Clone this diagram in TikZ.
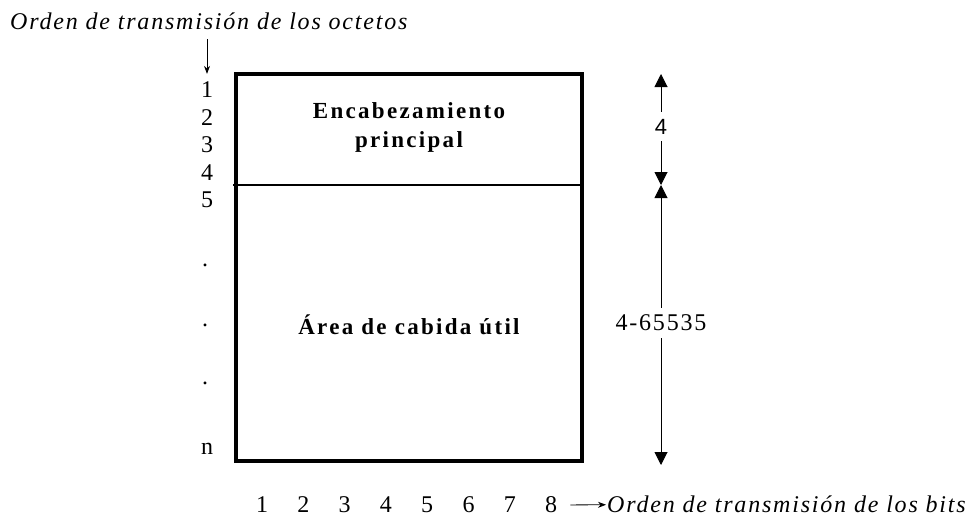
\documentclass[tikz,border=0pt]{standalone}
\usepackage{fontspec}
\setmainfont{Liberation Serif}
\newfontfamily\wideserif[LetterSpace=7.5]{Liberation Serif}
\newfontfamily\boldserif[LetterSpace=10]{Liberation Serif}
\newfontfamily\plainsans{Liberation Sans}
\usetikzlibrary{arrows.meta}
\begin{document}
\begin{tikzpicture}[x=1pt, y=-1pt,
            num/.style={font=\fontsize{24}{28}\selectfont, inner sep=2pt},
            ttl/.style={font=\wideserif\itshape\fontsize{24}{28}\selectfont, inner sep=1pt},
            lbl/.style={font=\boldserif\bfseries\fontsize{23}{29}\selectfont, align=center},
            dimlbl/.style={inner xsep=1pt, inner ysep=7pt},
            dimln/.style={line width=1pt, -{Triangle[length=13pt,width=13pt]}},
            ord/.style={line width=0.8pt, -{Stealth[length=8pt,width=6pt]}}]
            \useasboundingbox (0,0) rectangle (970,517);
            \node[ttl, anchor=west] (octttl) at (9,21) {Orden de transmisión de los octetos};
            \coordinate (octin) at (207,39);
            \foreach \i/\y in {1/90, 2/118, 3/145, 4/173, 5/200}
                \node[num] (oc\i) at (207,\y) {\i};
            \foreach \i/\y in {1/266.5, 2/326.5, 3/384.5}
                \node[num, anchor=base] (dt\i) at (205,\y) {.};
            \node[num] (ocn) at (207,449) {n};
            \draw[ord, shorten >=6pt] (octin) -- (oc1);
            \draw[line width=4pt] (236,74) rectangle (582,461);
            \draw[line width=1.5pt] (233,185) -- (582,185);
            \node[lbl] (hdr) at (409,127.5) {Encabezamiento\\principal};
            \node[lbl] (pay) at (409,325) {Área de cabida útil};
            \coordinate (dtop) at (661,74);
            \coordinate (dmid) at (661,185);
            \coordinate (dbot) at (661,465);
            \node[dimlbl, font=\plainsans\fontsize{22}{26}\selectfont] (dhdr) at (661,126.5) {4};
            \node[dimlbl, font=\wideserif\fontsize{24}{28}\selectfont] (dpay) at (661,323) {4-65535};
            \draw[dimln] (dhdr) -- (dtop);
            \draw[dimln] (dhdr) -- (dmid);
            \draw[dimln] (dpay) -- (dmid);
            \draw[dimln] (dpay) -- (dbot);
            \foreach \i in {1,...,8}
                \node[num] (bt\i) at ({262+41.3*(\i-1)},505) {\i};
            \node[ttl, anchor=west] (bitttl) at (606,504) {Orden de transmisión de los bits};
            \draw[ord, shorten <=11pt] (bt8) -- (bitttl);
        \end{tikzpicture}
\end{document}
